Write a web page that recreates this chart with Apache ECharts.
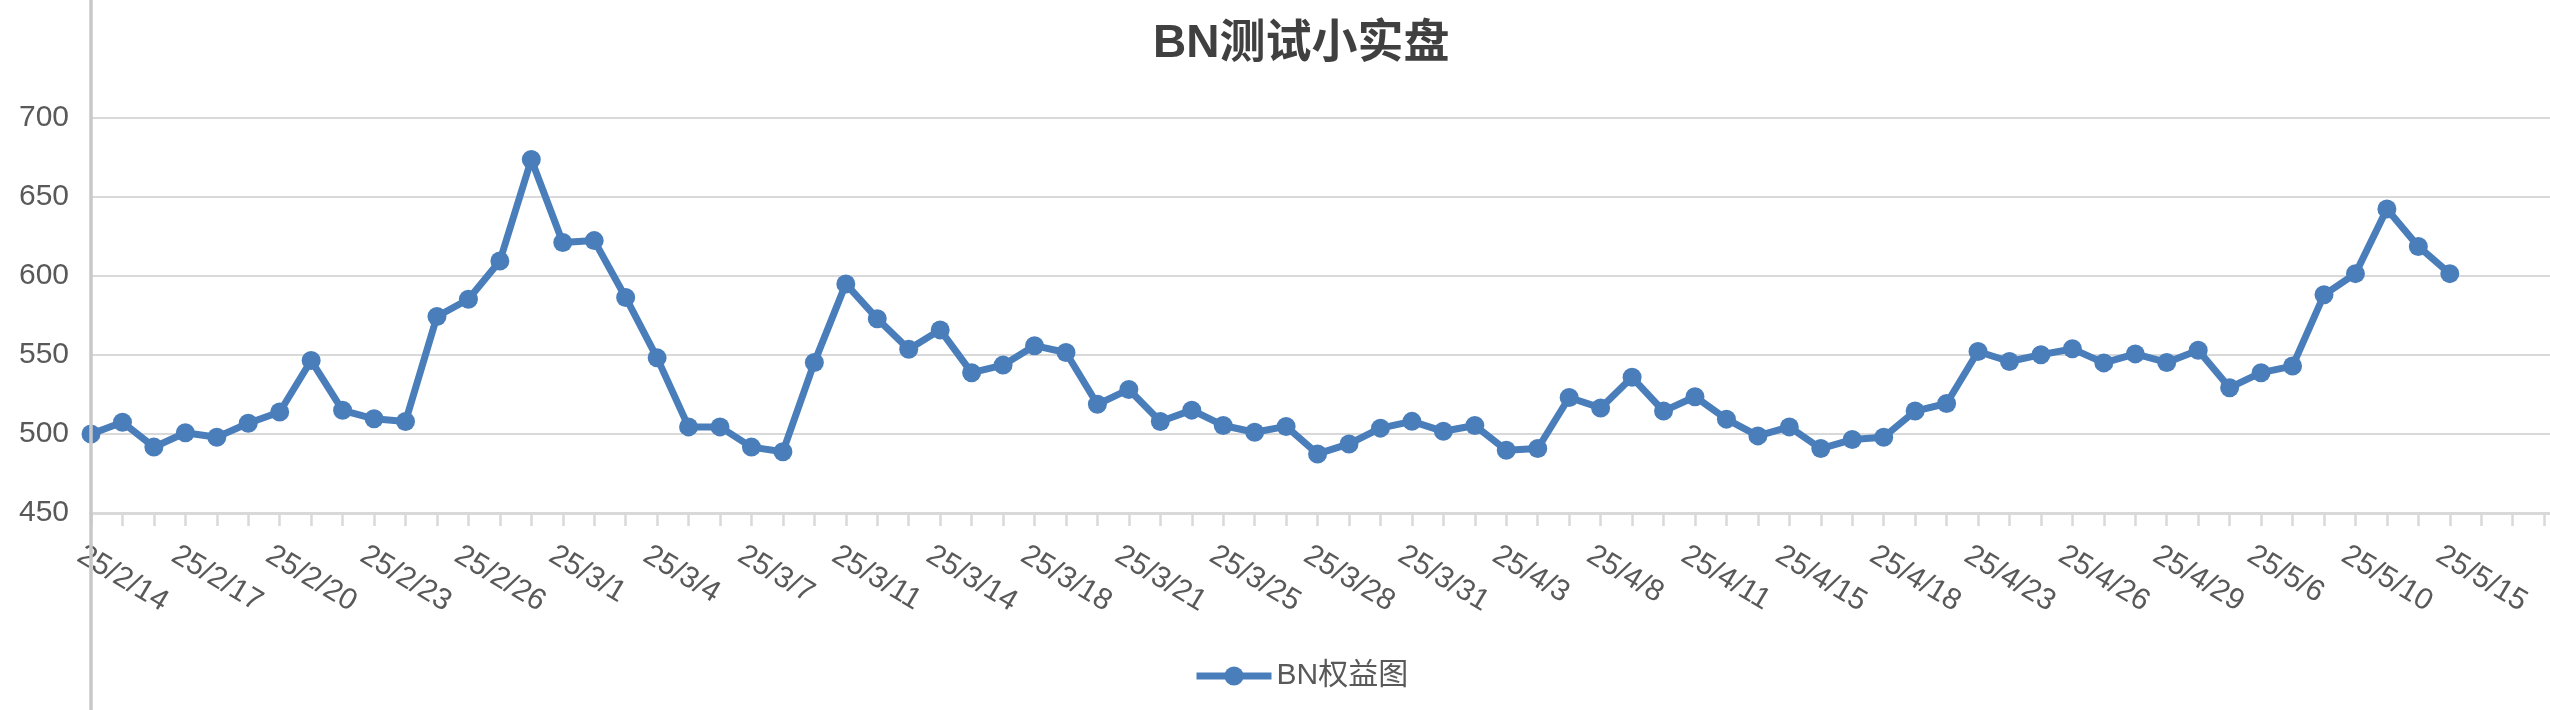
<!DOCTYPE html>
<html>
<head>
<meta charset="utf-8">
<script src="https://cdn.jsdelivr.net/npm/echarts@6/dist/echarts.min.js"></script>
<style>
html,body{margin:0;padding:0;background:#fff;}
#chart{width:2550px;height:710px;}
</style>
</head>
<body>
<div id="chart"></div>
<script>
var titleText = 'BN测试小实盘';
var seriesName = 'BN权益图';
var dates = [
'25/2/14','25/2/15','25/2/16','25/2/17','25/2/18','25/2/19','25/2/20','25/2/21','25/2/22','25/2/23',
'25/2/24','25/2/25','25/2/26','25/2/27','25/2/28','25/3/1','25/3/2','25/3/3','25/3/4','25/3/5',
'25/3/6','25/3/7','25/3/8','25/3/10','25/3/11','25/3/12','25/3/13','25/3/14','25/3/15','25/3/17',
'25/3/18','25/3/19','25/3/20','25/3/21','25/3/22','25/3/24','25/3/25','25/3/26','25/3/27','25/3/28',
'25/3/29','25/3/30','25/3/31','25/4/1','25/4/2','25/4/3','25/4/4','25/4/7','25/4/8','25/4/9',
'25/4/10','25/4/11','25/4/12','25/4/14','25/4/15','25/4/16','25/4/17','25/4/18','25/4/20','25/4/22',
'25/4/23','25/4/24','25/4/25','25/4/26','25/4/27','25/4/28','25/4/29','25/4/30','25/5/5','25/5/6',
'25/5/7','25/5/9','25/5/10','25/5/12','25/5/13','25/5/15'
];
var trailingEmpty = ['', '', '', ''];
var equity = [
500, 507.4, 491.7, 500.8, 498, 506.8, 513.9, 546.5, 515, 509.6,
507.9, 574.4, 585.3, 609.5, 673.7, 621.2, 622.4, 586.4, 548.2, 504.5,
504.5, 491.7, 488.8, 545.3, 595, 573, 553.6, 565.9, 538.8, 543.6,
555.9, 551.6, 518.8, 528.2, 507.9, 515.1, 505.4, 501.1, 504.8, 487.4,
493.7, 503.7, 508, 501.7, 505.4, 489.7, 490.8, 523.1, 516.5, 535.9,
514.5, 523.6, 509.4, 498.8, 504.5, 490.8, 496.5, 498, 514.5, 519.3,
552.2, 545.9, 550.2, 553.9, 545, 550.7, 545.3, 553, 529.3, 538.8,
543, 588.1, 601.5, 642.4, 618.7, 601.5
];
var yMin = 450, yMax = 700, yStep = 50;

var categories = dates.concat(trailingEmpty);
var FONT = "'Liberation Sans', Arial, 'Noto Sans CJK SC', sans-serif";
var BLUE = '#4a7ebb';
var chart = echarts.init(document.getElementById('chart'), null, {renderer: 'canvas'});
chart.setOption({
  animation: false,
  backgroundColor: '#ffffff',
  title: {
    text: titleText,
    left: 1153,
    top: 21,
    padding: 0,
    textStyle: {fontSize: 46, fontWeight: 'bold', color: '#404040', fontFamily: FONT, lineHeight: 46}
  },
  legend: {
    data: [seriesName],
    left: 1193,
    top: 661,
    padding: 0,
    itemWidth: 75,
    itemHeight: 24,
    itemGap: 10,
    lineStyle: {width: 7, color: BLUE},
    itemStyle: {color: BLUE},
    textStyle: {fontSize: 30, color: '#595959', fontFamily: FONT}
  },
  grid: {
    left: 91,
    right: -25.6,
    top: 118,
    bottom: 197,
    containLabel: false,
    outerBoundsMode: 'none'
  },
  graphic: [{
    type: 'line',
    z: 100,
    shape: {x1: 91, y1: 0, x2: 91, y2: 710},
    style: {stroke: '#c8c8c8', lineWidth: 3.5}
  }],
  xAxis: {
    type: 'category',
    data: categories,
    boundaryGap: false,
    axisLine: {show: true, lineStyle: {color: '#d9d9d9', width: 3}},
    axisTick: {show: true, interval: 0, length: 13, lineStyle: {color: '#d9d9d9', width: 2.5}},
    axisLabel: {
      interval: 2,
      rotate: -31,
      margin: 21,
      verticalAlign: 'top',
      lineHeight: 44,
      fontSize: 30,
      color: '#595959',
      fontFamily: FONT,
      showMinLabel: true,
      hideOverlap: false
    },
    splitLine: {show: false}
  },
  yAxis: {
    type: 'value',
    min: yMin,
    max: yMax,
    interval: yStep,
    axisLine: {show: false},
    axisTick: {show: false},
    axisLabel: {margin: 22, fontSize: 30, color: '#595959', fontFamily: FONT},
    splitLine: {show: true, lineStyle: {color: '#d9d9d9', width: 2}}
  },
  series: [{
    name: seriesName,
    type: 'line',
    data: equity,
    symbol: 'circle',
    symbolSize: 19,
    showAllSymbol: true,
    smooth: false,
    clip: false,
    lineStyle: {color: BLUE, width: 7},
    itemStyle: {color: BLUE},
    emphasis: {disabled: true}
  }]
});
</script>
</body>
</html>
